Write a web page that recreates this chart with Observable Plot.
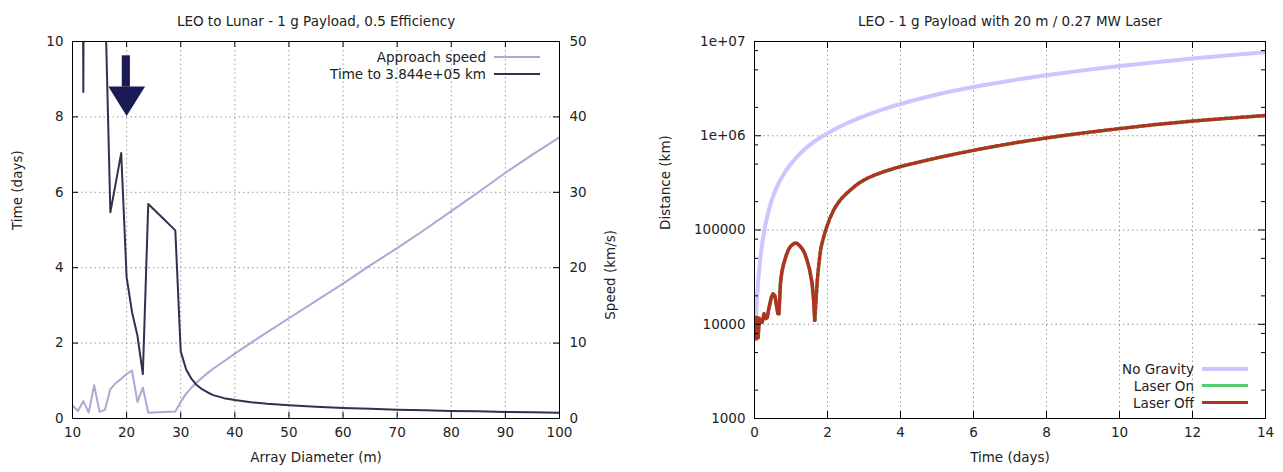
<!DOCTYPE html>
<html><head><meta charset="utf-8">
<script src="https://cdn.jsdelivr.net/npm/d3@7"></script>
<script src="https://cdn.jsdelivr.net/npm/@observablehq/plot@0.6"></script>
<style>
body{margin:0;background:#fff;}
#wrap{position:relative;width:1283px;height:472px;display:flex;background:#fff;}
.legend{position:absolute;font:13.5px "DejaVu Sans";color:#222;}
.row{display:flex;align-items:center;justify-content:flex-end;height:17px;white-space:nowrap;}
.sw{display:inline-block;width:46px;margin-left:8px;}
</style></head><body><div id="wrap"></div>
<script>
// ---------- Left chart data ----------
const leftTitle = "LEO to Lunar - 1 g Payload, 0.5 Efficiency";
const leftXLabel = "Array Diameter (m)";
const leftYLabel = "Time (days)";
const leftY2Label = "Speed (km/s)";
const leftSeries = ["Approach speed", "Time to 3.844e+05 km"];
const leftXTicks = [10,20,30,40,50,60,70,80,90,100];
const leftYTicks = [0,2,4,6,8,10];
const speedTicks = [0,10,20,30,40,50];

const speedDiam = [10,11,12,13,14,15,16,17,18,19,20,21,22,23,24,25,26,27,28,29,30,31,32,33,34,35,36,37,38,40,45,50,55,60,65,70,75,80,85,90,95,100];
const speedVals = [1.72,1.0,2.3,0.8,4.4,0.88,1.15,3.9,4.7,5.26,5.9,6.37,2.2,4.1,0.76,0.8,0.84,0.87,0.9,0.93,2.2,3.3,4.1,4.8,5.45,6.05,6.6,7.1,7.6,8.6,11.0,13.3,15.6,17.9,20.3,22.6,25.0,27.5,30.0,32.6,35.0,37.3];

const timeDiam = [10,11,12,13,14,15,16,17,18,19,20,21,22,23,24,25,26,27,28,29,30,31,32,33,34,35,36,38,40,43,46,50,55,60,65,70,75,80,85,90,95,100];
const timeVals = [50,50,8.66,50,50,50,11.3,5.47,6.25,7.04,3.75,2.82,2.2,1.18,5.69,5.55,5.41,5.27,5.13,4.99,1.78,1.3,1.05,0.88,0.77,0.69,0.62,0.54,0.49,0.43,0.39,0.35,0.31,0.28,0.26,0.235,0.22,0.2,0.19,0.175,0.165,0.155];

// annotation arrow (diameter, days)
const arrowShaft = [{x1:19.2, x2:20.7, y1:8.79, y2:9.62}];
const arrowHead = [{x:16.72, y:8.79},{x:20.1, y:8.01},{x:23.5, y:8.79}];

// ---------- Right chart data ----------
const rightTitle = "LEO - 1 g Payload with 20 m / 0.27 MW Laser";
const rightXLabel = "Time (days)";
const rightYLabel = "Distance (km)";
const rightSeries = ["No Gravity", "Laser On", "Laser Off"];
const rightXTicks = [0,2,4,6,8,10,12,14];
const rightYTicks = [1e3,1e4,1e5,1e6,1e7];
const rightYLabels = ["1000","10000","100000","1e+06","1e+07"];
const rightYMinor = [2e3,5e3,8e3,2e4,5e4,8e4,2e5,5e5,8e5,2e6,5e6,8e6];

const noGravT = [0,0.03,0.08,0.16,0.23,0.3,0.45,0.62,0.85,1.08,1.5,2,2.5,3,3.5,4,5,6,7,8,9,10,11,12,13,14];
const noGravD = [7000,10000,22000,50000,80000,115000,195000,290000,420000,550000,790000,1060000,1340000,1610000,1890000,2170000,2740000,3290000,3840000,4390000,4940000,5490000,6040000,6590000,7140000,7700000];

const laserT = [0,0.03,0.05,0.08,0.1,0.13,0.16,0.21,0.26,0.31,0.35,0.39,0.46,0.51,0.56,0.6,0.64,0.67,0.71,0.75,0.8,0.87,0.94,1.0,1.08,1.13,1.17,1.24,1.31,1.38,1.44,1.51,1.58,1.62,1.65,1.69,1.72,1.76,1.81,1.88,1.95,2.05,2.17,2.35,2.63,2.85,3.09,3.5,4,4.5,5,6,7,8,9,10,11,12,13,14];
const laserD = [7000,11800,7000,11800,7200,11500,10900,10500,12900,11500,11800,14500,19300,21000,20000,16000,13000,12900,26800,36000,43900,54000,63000,68000,71800,72500,71800,68000,63000,56000,47600,38000,26800,18000,11000,19000,29000,42000,61000,80000,99500,128000,163000,208000,266000,312000,354000,410000,471000,525000,582000,700000,824000,948000,1070000,1190000,1315000,1430000,1535000,1640000];
const laserDip = 1.65; // after the last bounce the laser switches on and off rapidly

// ---------- styles ----------
const C = {speed:"#a9a9d2", time:"#30304f", arrow:"#1a1a55", nograv:"#c8c8ff", on:"#55cc6e", off:"#b03322", grid:"#9a9a9a", ink:"#222"};
const font = {fontFamily:"DejaVu Sans", fontSize:"13.5px", color:C.ink, background:"#fff", overflow:"visible"};

const speedRows = speedDiam.map((d,i)=>({d, v:speedVals[i]}));
const timeRows = timeDiam.map((d,i)=>({d, v:timeVals[i]}));
const noGravRows = noGravT.map((t,i)=>({t, v:noGravD[i]}));
const laserRows = laserT.map((t,i)=>({t, v:laserD[i]}));

const H = 472, MT = 41, MB = 54;
const L = {w:640, ml:72, mr:81};
const Lpw = L.w - L.ml - L.mr, ph = H - MT - MB;
const grid = {stroke:C.grid, strokeOpacity:1, strokeDasharray:"1.5,3"};

const left = Plot.plot({
  width:L.w, height:H, marginLeft:L.ml, marginRight:L.mr, marginTop:MT, marginBottom:MB,
  style:font,
  x:{domain:[10,100]},
  y:{domain:[0,10]},
  marks:[
    Plot.ruleX(leftXTicks.slice(1,-1), grid),
    Plot.ruleY(leftYTicks.slice(1,-1), grid),
    Plot.line(speedRows, {x:"d", y:d=>d.v*leftYTicks[5]/speedTicks[5], stroke:C.speed, strokeWidth:2, clip:true}),
    Plot.line(timeRows, {x:"d", y:"v", stroke:C.time, strokeWidth:2, clip:true}),
    Plot.rect(arrowShaft, {x1:"x1", x2:"x2", y1:"y1", y2:"y2", fill:C.arrow}),
    Plot.areaY(arrowHead, {x:"x", y1:"y", y2:arrowHead[0].y, fill:C.arrow}),
    Plot.frame({stroke:"#000"}),
    Plot.ruleX(leftXTicks, {stroke:"#000", insetTop:ph-6}),
    Plot.ruleX(leftXTicks, {stroke:"#000", insetBottom:ph-6}),
    Plot.ruleY(leftYTicks, {stroke:"#000", insetRight:Lpw-6}),
    Plot.ruleY(leftYTicks, {stroke:"#000", insetLeft:Lpw-6}),
    Plot.axisX({ticks:leftXTicks, tickSize:0, tickPadding:9, label:null}),
    Plot.axisY({anchor:"left", ticks:leftYTicks, tickSize:0, tickPadding:9, label:null}),
    Plot.axisY({anchor:"right", ticks:leftYTicks, tickFormat:d=>speedTicks[leftYTicks.indexOf(d)], tickSize:0, tickPadding:10, label:null}),
    Plot.text([leftTitle], {frameAnchor:"top", dy:-25, text:d=>d}),
    Plot.text([leftXLabel], {frameAnchor:"bottom", dy:43, text:d=>d}),
    Plot.text([leftYLabel], {frameAnchor:"left", rotate:-90, dx:-55, text:d=>d}),
    Plot.text([leftY2Label], {frameAnchor:"right", rotate:-90, dx:51, text:d=>d})
  ]
});

const R = {w:643, ml:114, mr:18};
const Rpw = R.w - R.ml - R.mr;
const right = Plot.plot({
  width:R.w, height:H, marginLeft:R.ml, marginRight:R.mr, marginTop:MT, marginBottom:MB,
  style:font,
  x:{domain:[0,14]},
  y:{type:"log", domain:[1e3,1e7]},
  marks:[
    Plot.ruleX(rightXTicks.slice(1,-1), grid),
    Plot.ruleY(rightYTicks.slice(1,-1), grid),
    Plot.line(noGravRows, {x:"t", y:"v", stroke:C.nograv, strokeWidth:4, curve:"monotone-x", clip:true}),
    Plot.line(laserRows, {x:"t", y:"v", stroke:C.on, strokeWidth:3.5, clip:true}),
    Plot.line(laserRows.filter(d=>d.t<=laserDip), {x:"t", y:"v", stroke:C.off, strokeWidth:3.5, clip:true}),
    Plot.line(laserRows.filter(d=>d.t>=laserDip), {x:"t", y:"v", stroke:C.off, strokeWidth:3.5, strokeDasharray:"3,2.5", curve:"monotone-x", clip:true}),
    Plot.frame({stroke:"#000"}),
    Plot.ruleX(rightXTicks, {stroke:"#000", insetTop:ph-7}),
    Plot.ruleX(rightXTicks, {stroke:"#000", insetBottom:ph-7}),
    Plot.ruleY(rightYTicks, {stroke:"#000", insetRight:Rpw-7}),
    Plot.ruleY(rightYTicks, {stroke:"#000", insetLeft:Rpw-7}),
    Plot.ruleY(rightYMinor, {stroke:"#000", insetRight:Rpw-4}),
    Plot.ruleY(rightYMinor, {stroke:"#000", insetLeft:Rpw-4}),
    Plot.axisX({ticks:rightXTicks, tickSize:0, tickPadding:9, label:null}),
    Plot.axisY({anchor:"left", ticks:rightYTicks, tickFormat:d=>rightYLabels[rightYTicks.indexOf(d)], tickSize:0, tickPadding:9, label:null}),
    Plot.text([rightTitle], {frameAnchor:"top", dy:-25, text:d=>d}),
    Plot.text([rightXLabel], {frameAnchor:"bottom", dy:43, text:d=>d}),
    Plot.text([rightYLabel], {frameAnchor:"left", rotate:-90, dx:-89, text:d=>d})
  ]
});

const wrap = document.getElementById("wrap");
wrap.append(left, right);

function legend(labels, colors, widths, rightPx, topPx){
  const div = document.createElement("div");
  div.className = "legend";
  div.style.right = rightPx + "px";
  div.style.top = topPx + "px";
  labels.forEach((lab,i)=>{
    const row = document.createElement("div");
    row.className = "row";
    const t = document.createElement("span");
    t.textContent = lab;
    const s = document.createElement("span");
    s.className = "sw";
    s.style.height = widths[i] + "px";
    s.style.background = colors[i];
    row.append(t, s);
    div.append(row);
  });
  wrap.append(div);
}
legend(leftSeries, [C.speed, C.time], [2,2], 1283-540, 48);
legend(rightSeries, [C.nograv, C.on, C.off], [4,3.5,3.5], 1283-1248, 360);
</script>
</body></html>
